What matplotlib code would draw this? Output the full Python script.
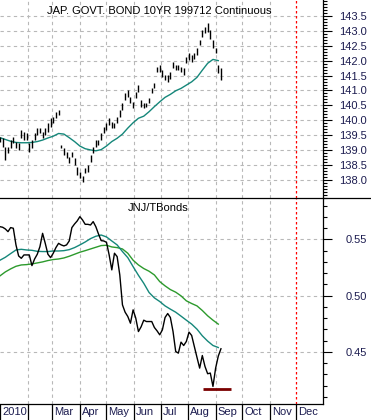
#=======================================================================
# JGB 10yr futures vs JNJ/TBonds ratio, two stacked panels
#=======================================================================
# PROGRAM IMPORTS ------------------------------------------------------
import datetime as dt
import numpy as nu
import pandas as pd
import matplotlib
matplotlib.use("Agg")
import matplotlib.pyplot as plt
from matplotlib.ticker import MultipleLocator, FixedLocator, FormatStrFormatter
from matplotlib.lines import Line2D

# PROGRAM CONSTANTS ----------------------------------------------------
# price bars, one every 3 calendar days
BAR_DATES = pd.date_range("2010-01-01", periods=84, freq="3D")
JGB_HIGH = [139.45, 139.40, 139.12, 139.12, 139.34, 139.45, 139.29, 139.23,
            139.68, 139.62, 139.56, 139.23, 139.34, 139.56, 139.73, 139.73,
            139.62, 139.73, 139.90, 140.07, 140.12, 140.29, 140.34, 139.17,
            139.06, 138.95, 138.78, 138.95, 138.73, 138.45, 138.28, 138.12,
            138.39, 138.50, 138.84, 139.12, 139.34, 139.34, 139.56, 139.79,
            139.90, 140.07, 139.95, 139.90, 140.12, 140.34, 140.57, 140.90,
            141.01, 140.79, 140.62, 140.96, 141.18, 140.68, 140.57, 140.57,
            140.74, 141.07, 141.24, 141.79, 141.85, 141.68, 141.52, 141.52,
            141.63, 141.96, 141.85, 141.85, 141.79, 141.74, 142.13, 142.24,
            142.18, 142.24, 142.41, 142.69, 143.02, 143.13, 143.27, 143.02,
            142.69, 142.41, 141.85, 141.74]
JGB_LOW = [139.29, 139.12, 138.67, 138.90, 139.06, 139.23, 139.06, 139.01,
           139.40, 139.34, 139.34, 138.95, 139.06, 139.34, 139.51, 139.56,
           139.40, 139.51, 139.62, 139.79, 139.90, 140.07, 140.18, 139.06,
           138.84, 138.73, 138.56, 138.78, 138.50, 138.17, 138.06, 137.95,
           138.23, 138.28, 138.62, 138.90, 139.12, 139.17, 139.34, 139.56,
           139.68, 139.84, 139.73, 139.73, 139.90, 140.12, 140.34, 140.68,
           140.79, 140.57, 140.40, 140.74, 140.96, 140.46, 140.40, 140.46,
           140.57, 140.90, 141.07, 141.63, 141.63, 141.46, 141.35, 141.29,
           141.40, 141.74, 141.68, 141.68, 141.63, 141.52, 141.91, 142.02,
           141.96, 142.07, 142.18, 142.52, 142.80, 142.91, 142.96, 142.74,
           142.41, 142.24, 141.57, 141.35]

# moving averages, one every 6 calendar days
MA_DATES = pd.date_range("2010-01-01", periods=42, freq="6D")
JGB_MA = [139.42, 139.36, 139.30, 139.26, 139.25, 139.25, 139.26, 139.29,
          139.34, 139.41, 139.47, 139.56, 139.54, 139.42, 139.29, 139.14,
          139.05, 139.01, 138.98, 139.02, 139.14, 139.29, 139.40, 139.54,
          139.74, 139.92, 140.07, 140.14, 140.29, 140.46, 140.62, 140.77,
          140.87, 140.99, 141.07, 141.18, 141.29, 141.44, 141.68, 141.91,
          142.04, 142.00]

RATIO = [0.5612, 0.5607, 0.5592, 0.5568, 0.5604, 0.5598, 0.5450, 0.5352,
         0.5331, 0.5361, 0.5361, 0.5361, 0.5266, 0.5325, 0.5367, 0.5435,
         0.5553, 0.5464, 0.5367, 0.5337, 0.5376, 0.5426, 0.5464, 0.5450,
         0.5441, 0.5450, 0.5485, 0.5604, 0.5636, 0.5663, 0.5701, 0.5672,
         0.5633, 0.5633, 0.5627, 0.5657, 0.5612, 0.5547, 0.5488, 0.5485,
         0.5473, 0.5361, 0.5228, 0.5376, 0.5346, 0.5183, 0.4917, 0.4852,
         0.4814, 0.4754, 0.4873, 0.4799, 0.4680, 0.4722, 0.4781, 0.4769,
         0.4769, 0.4769, 0.4716, 0.4686, 0.4651, 0.4695, 0.4805, 0.4840,
         0.4805, 0.4680, 0.4503, 0.4488, 0.4586, 0.4556, 0.4592, 0.4675,
         0.4645, 0.4547, 0.4450, 0.4355, 0.4467, 0.4370, 0.4305, 0.4311,
         0.4192, 0.4355, 0.4462, 0.4527]
RATIO_MA_SHORT = [0.5314, 0.5340, 0.5373, 0.5405, 0.5411, 0.5405, 0.5402,
                  0.5393, 0.5391, 0.5391, 0.5396, 0.5396, 0.5399, 0.5408,
                  0.5426, 0.5450, 0.5476, 0.5506, 0.5527, 0.5538, 0.5521,
                  0.5485, 0.5450, 0.5391, 0.5337, 0.5257, 0.5180, 0.5109,
                  0.5027, 0.4979, 0.4947, 0.4908, 0.4879, 0.4852, 0.4817,
                  0.4781, 0.4746, 0.4701, 0.4642, 0.4595, 0.4556, 0.4538]
RATIO_MA_LONG = [0.5175, 0.5210, 0.5237, 0.5260, 0.5272, 0.5275, 0.5281,
                 0.5290, 0.5299, 0.5311, 0.5320, 0.5325, 0.5334, 0.5349,
                 0.5367, 0.5385, 0.5399, 0.5414, 0.5429, 0.5444, 0.5447,
                 0.5432, 0.5426, 0.5414, 0.5376, 0.5314, 0.5272, 0.5240,
                 0.5216, 0.5183, 0.5124, 0.5086, 0.5053, 0.5030, 0.4997,
                 0.4953, 0.4929, 0.4908, 0.4867, 0.4820, 0.4781, 0.4746]

SUPPORT_LEVEL = 0.4169
SUPPORT_SPAN = ["2010-08-18", "2010-09-18"]
MARKER_DATE = "2010-12-01"

# labelled price levels on the right axes
JGB_TICKS = [138.0, 138.5, 139.0, 139.5, 140.0, 140.5, 141.0, 141.5,
             142.0, 142.5, 143.0, 143.5]
RATIO_TICKS = [0.45, 0.50, 0.55]

MONTH_STARTS = pd.date_range("2010-01-01", "2010-12-01", freq="MS")
MONTH_LABELS = ["2010", "", "Mar", "Apr", "May", "Jun", "Jul", "Aug",
                "Sep", "Oct", "Nov", "Dec"]

TOP_TITLE = "JAP. GOVT. BOND 10YR 199712 Continuous"
BOTTOM_TITLE = "JNJ/TBonds"

# styles
W, H = 371, 420
AX_RIGHT = 323
SPLIT = 198
BOTTOM = 404
LABEL_COLOR = "#1c1c50"
GRID_COLOR = "#b8b8b8"
TEAL = "#15877a"
GREEN = "#2c9a2c"
XLIM = (dt.datetime(2010, 1, 1), dt.datetime(2010, 12, 31))

plt.rcParams["font.family"] = ["Liberation Sans", "DejaVu Sans"]
plt.rcParams["font.size"] = 8

#=======================================================================
# FUNCTION: style_axis -------------------------------------------------
def style_axis(ax, ticks, minor, fmt):
    """ right-hand price axis with gray dashed grid """
    ax.set_xlim(*XLIM)
    ax.yaxis.tick_right()
    ax.yaxis.set_major_locator(FixedLocator(ticks))
    ax.yaxis.set_minor_locator(MultipleLocator(minor))
    ax.yaxis.set_major_formatter(FormatStrFormatter(fmt))
    ax.tick_params(axis="y", which="major", length=6.5, width=0.8,
                   pad=25, labelcolor=LABEL_COLOR, labelsize=8)
    ax.tick_params(axis="y", which="minor", length=3, width=0.8)
    for lab in ax.get_yticklabels():
        lab.set_horizontalalignment("right")
    for s in ["top", "left", "bottom"]:
        ax.spines[s].set_visible(False)
    ax.spines["right"].set_linewidth(0.9)
    for t in ticks:
        ax.axhline(t, color=GRID_COLOR, lw=0.8, ls=(0, (3, 3)), zorder=0)
    for m in MONTH_STARTS[1:-1]:
        ax.axvline(m, color=GRID_COLOR, lw=0.8, ls=(0, (3, 3)), zorder=0)
    ax.axvline(pd.Timestamp(MARKER_DATE), color="red", lw=0.9,
               ls=(0, (2, 2)), zorder=1)


#=======================================================================
# PROGRAM SCRIPT -------------------------------------------------------
fig = plt.figure(figsize=(W / 100, H / 100), dpi=100)
fig.patch.set_facecolor("white")

ax1 = fig.add_axes([0, 1 - SPLIT / H, AX_RIGHT / W, SPLIT / H])
ax2 = fig.add_axes([0, 1 - BOTTOM / H, AX_RIGHT / W, (BOTTOM - SPLIT) / H])

# top panel: price bars and moving average
ax1.set_ylim(137.40, 144.03)
style_axis(ax1, JGB_TICKS, 0.1, "%.1f")
ax1.set_xticks([])
ax1.vlines(BAR_DATES, JGB_LOW, JGB_HIGH, color="black", lw=1.0, zorder=3)
ax1.plot(MA_DATES, JGB_MA, color=TEAL, lw=1.0, zorder=2)
ax1.text(0.5 * AX_RIGHT / W - 0.005, 1 - 11 / H, TOP_TITLE,
         transform=fig.transFigure, ha="center", va="center", fontsize=8)

# bottom panel: ratio and moving averages
ax2.set_ylim(0.4036, 0.5867)
style_axis(ax2, RATIO_TICKS, 0.01, "%.2f")
ax2.spines["bottom"].set_visible(True)
ax2.spines["bottom"].set_linewidth(0.9)
ax2.plot(MA_DATES, RATIO_MA_LONG, color=GREEN, lw=1.0, zorder=2)
ax2.plot(MA_DATES, RATIO_MA_SHORT, color=TEAL, lw=1.0, zorder=2)
ax2.plot(BAR_DATES, RATIO, color="black", lw=1.0, zorder=3)
ax2.hlines(SUPPORT_LEVEL, pd.Timestamp(SUPPORT_SPAN[0]),
           pd.Timestamp(SUPPORT_SPAN[1]), color="#7a0000", lw=2.0, zorder=4)
ax2.text(0.5 * AX_RIGHT / W - 0.01, 1 - 208 / H, BOTTOM_TITLE,
         transform=fig.transFigure, ha="center", va="center", fontsize=8)

# month separators and labels under the bottom panel
ax2.set_xticks(MONTH_STARTS)
ax2.set_xticklabels([])
ax2.tick_params(axis="x", direction="out", length=12, width=0.9)
for m, lbl in zip(MONTH_STARTS, MONTH_LABELS):
    ax2.annotate(lbl, xy=(m, 0), xycoords=("data", "axes fraction"),
                 xytext=(1.5, -6), textcoords="offset points",
                 ha="left", va="center", color=LABEL_COLOR, fontsize=8)

# panel separator spans the whole width
fig.add_artist(Line2D([0, 1], [1 - SPLIT / H, 1 - SPLIT / H],
                      transform=fig.transFigure, color="black", lw=0.9))

fig.savefig("out.png", dpi=100)
